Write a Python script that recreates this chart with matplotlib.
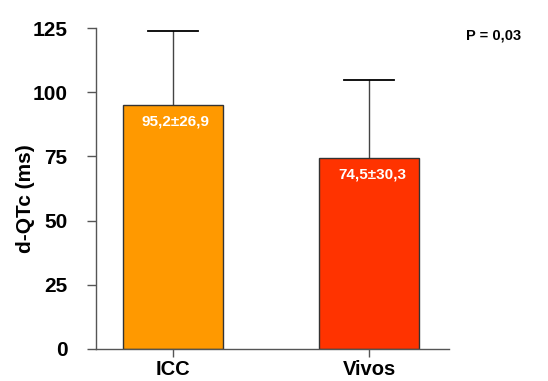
import matplotlib.pyplot as plt
import numpy as np

plt.rcParams['font.family'] = ['Liberation Sans', 'DejaVu Sans']
plt.rcParams['font.weight'] = 'bold'

GROUPS = ['ICC', 'Vivos']
MEANS = [95.2, 74.5]
# upper error as drawn in the figure
ERRORS = [28.5, 30.3]
LABELS = ['95,2±26,9', '74,5±30,3']
COLORS = ['#FF9900', '#FF3300']
YTICKS = [0, 25, 50, 75, 100, 125]
P_TEXT = 'P = 0,03'


def main():
	fig = plt.figure(figsize=(5.48, 3.81), dpi=100)
	ax = fig.add_axes([0.1752, 0.084, 0.6441, 0.8425])

	x = np.arange(len(GROUPS))
	ax.bar(x, MEANS, width=0.515, color=COLORS, edgecolor='#333333', linewidth=1.0, zorder=2)

	# error bars: gray stem, black cap, upward only
	for xi, m, e in zip(x, MEANS, ERRORS):
		ax.plot([xi, xi], [m, m + e], color='#444444', linewidth=1.0, zorder=1)
		ax.plot([xi - 0.128, xi + 0.128], [m + e, m + e], color='black', linewidth=1.3, zorder=1)

	for xi, m, lab in zip(x, MEANS, LABELS):
		ax.text(xi + 0.015, m - 6.5, lab, color='white', fontsize=11, fontweight='bold',
				ha='center', va='center', zorder=3)

	ax.set_xlim(-0.393, 1.408)
	ax.set_ylim(0, 125)
	ax.set_xticks(x)
	ax.set_xticklabels(GROUPS, fontsize=14.5, fontweight='bold')
	ax.set_yticks(YTICKS)
	ax.set_yticklabels([str(t) for t in YTICKS], fontsize=15, fontweight='bold')

	for side in ['top', 'right']:
		ax.spines[side].set_visible(False)
	for side in ['left', 'bottom']:
		ax.spines[side].set_color('#555555')
		ax.spines[side].set_linewidth(1.0)
	ax.tick_params(axis='y', length=6.5, width=1.0, color='#555555', pad=14)
	ax.tick_params(axis='x', length=6, width=1.0, color='#555555', pad=2)

	ax.set_ylabel('d-QTc (ms)', fontsize=15, fontweight='bold')
	ax.yaxis.set_label_coords(-0.174, 0.467)

	fig.text(0.851, 0.908, P_TEXT, fontsize=10.5, fontweight='bold', ha='left', va='center')

	fig.savefig('out.png', dpi=100)


if __name__ == '__main__':
	main()
